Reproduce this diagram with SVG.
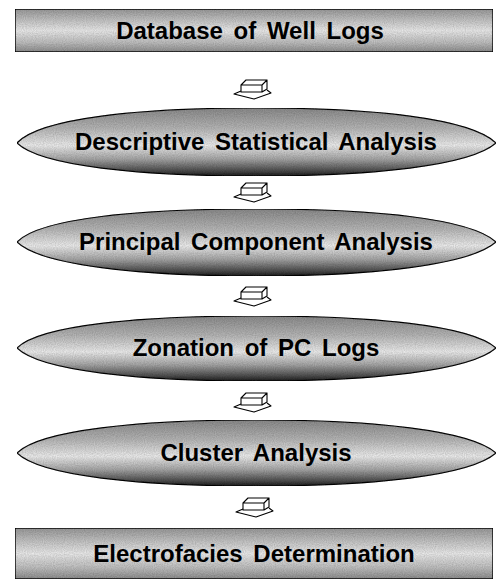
<svg xmlns="http://www.w3.org/2000/svg" width="497" height="586" viewBox="0 0 497 586">
<defs>
<linearGradient id="gRect" x1="0" y1="0" x2="0" y2="1">
<stop offset="0" stop-color="#9a9a9a"/>
<stop offset="0.25" stop-color="#c4c4c4"/>
<stop offset="0.5" stop-color="#ececec"/>
<stop offset="0.78" stop-color="#c0c0c0"/>
<stop offset="1" stop-color="#8e8e8e"/>
</linearGradient>
<linearGradient id="gEll" x1="0" y1="0" x2="0" y2="1">
<stop offset="0" stop-color="#8c8c8c"/>
<stop offset="0.3" stop-color="#b8b8b8"/>
<stop offset="0.55" stop-color="#eeeeee"/>
<stop offset="0.75" stop-color="#a8a8a8"/>
<stop offset="0.92" stop-color="#505050"/>
<stop offset="1" stop-color="#202020"/>
</linearGradient>
<filter id="grain" x="0" y="0" width="100%" height="100%">
<feTurbulence type="fractalNoise" baseFrequency="0.9" numOctaves="1" seed="4" result="n"/>
<feColorMatrix in="n" type="matrix" values="0 0 0 0 0  0 0 0 0 0  0 0 0 0 0  0 0 0 0.5 -0.1" result="na"/>
<feComposite in="na" in2="SourceGraphic" operator="in" result="nc"/>
<feMerge><feMergeNode in="SourceGraphic"/><feMergeNode in="nc"/></feMerge>
</filter>
<g id="arrow">
<path d="M-18,13 L-11,10 L-11,4 L-6,-1 L15,-1 L15,8 L10,11 L19,12 L2,18 Z" fill="#fff" stroke="none"/>
<path d="M-11,4 L-6,-1 L15,-1 L10,4 Z M-11,4 L10,4 L10,11 L-11,11 Z M10,4 L15,-1 L15,8 L10,11" fill="none" stroke="#000" stroke-width="1.1" stroke-linejoin="round"/>
<path d="M-11,10 L-18,13 L2,18 L19,12 L15,9" fill="none" stroke="#000" stroke-width="1.1" stroke-linejoin="round"/>
</g>
</defs>
<style>
.box{fill:url(#gRect);stroke:#111;stroke-width:1.5;filter:url(#grain)}
.ell{fill:url(#gEll);stroke:#111;stroke-width:1.2;filter:url(#grain)}
.lbl{font-family:"Liberation Sans",Arial,sans-serif;font-weight:bold;font-size:24px;fill:#000;text-anchor:middle;word-spacing:4px}
</style>
<rect width="497" height="586" fill="#fff"/>
<g id="connectors">
<use href="#arrow" x="252" y="81"/>
<use href="#arrow" x="252" y="184"/>
<use href="#arrow" x="252" y="288"/>
<use href="#arrow" x="252" y="394"/>
<use href="#arrow" x="254" y="499"/>
</g>
<g id="node1">
<rect class="box" x="15" y="9" width="478" height="43"/>
<text class="lbl" x="250" y="39">Database of Well Logs</text>
</g>
<g id="node2">
<path class="ell" d="M17,143 C40,118 140,108 256,108 C372,108 470,118 496,143 C470,166 372,176 256,176 C140,176 40,166 17,143 Z"/>
<text class="lbl" x="256" y="150">Descriptive Statistical Analysis</text>
</g>
<g id="node3">
<path class="ell" d="M17,242 C40,218 140,209 256,209 C372,209 470,218 496,242 C470,265 372,276 256,276 C140,276 40,265 17,242 Z"/>
<text class="lbl" x="256" y="250">Principal Component Analysis</text>
</g>
<g id="node4">
<path class="ell" d="M17,348 C40,325 140,316 256,316 C372,316 470,325 496,348 C470,371 372,381 256,381 C140,381 40,371 17,348 Z"/>
<text class="lbl" x="256" y="356">Zonation of PC Logs</text>
</g>
<g id="node5">
<path class="ell" d="M17,453 C40,430 140,420 256,420 C372,420 470,430 496,453 C470,476 372,486 256,486 C140,486 40,476 17,453 Z"/>
<text class="lbl" x="256" y="461">Cluster Analysis</text>
</g>
<g id="node6">
<rect class="box" x="15" y="528" width="478" height="51"/>
<text class="lbl" x="254" y="562">Electrofacies Determination</text>
</g>
</svg>
